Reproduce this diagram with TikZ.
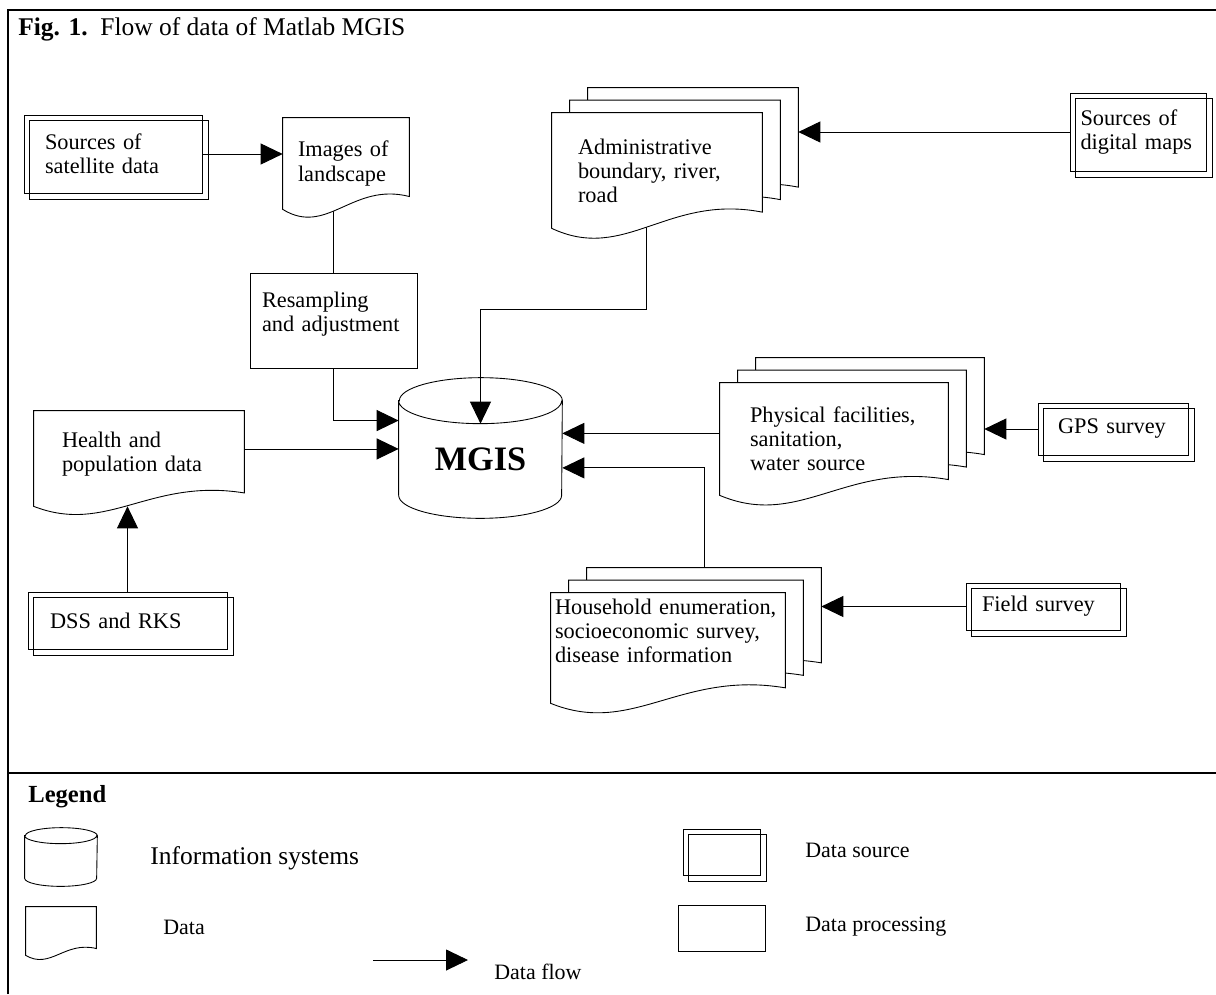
\documentclass[tikz,border=0pt]{standalone}
\usepackage{fontspec}
\setmainfont{Liberation Serif}
\usetikzlibrary{arrows.meta,calc,backgrounds}

\newcommand{\docpage}[3]{%
  \filldraw[outline]
    ($(#1.north west)+(#2,#3)$) -- ($(#1.south west)+(#2,#3)$)
    .. controls ($(#1.south west)!0.35!(#1.south east)+0.3*(#1.south west)-0.3*(#1.north west)+(#2,#3)$)
    and ($(#1.south west)!0.55!(#1.south east)-0.3*(#1.south west)+0.3*(#1.north west)+(#2,#3)$)
    .. ($(#1.south east)!0.14!(#1.north east)+(#2,#3)$) -- ($(#1.north east)+(#2,#3)$) -- cycle;}
\newcommand{\docshape}[1]{\docpage{#1}{0cm}{0cm}}
\newcommand{\docstack}[1]{\docpage{#1}{0.72cm}{0.5cm}\docpage{#1}{0.36cm}{0.25cm}\docpage{#1}{0cm}{0cm}}
\newcommand{\dbshape}[3]{%
  \filldraw[outline] (#1.north west) -- (#1.south west)
    arc[start angle=180,end angle=360,x radius=#2,y radius=#3]
    -- (#1.north east) arc[start angle=0,end angle=180,x radius=#2,y radius=#3] -- cycle
    (#1.north west) arc[start angle=180,end angle=360,x radius=#2,y radius=#3];}
\newcommand{\srccopy}[1]{\draw[link] ([shift={(0.12cm,-0.12cm)}]#1.north west) rectangle ([shift={(0.12cm,-0.12cm)}]#1.south east);}

\begin{document}
\begin{tikzpicture}[x=0.02cm,y=-0.02cm]
\tikzset{
  txt/.style={font=\fontsize{12.7}{13.7}\selectfont,align=left,inner ysep=0pt},
  srcbox/.style={txt,draw,line width=0.5pt},
  procbox/.style={txt,draw,line width=0.5pt},
  datadoc/.style={txt},
  dbase/.style={inner sep=0pt,font=\fontsize{19.5}{20}\selectfont\bfseries},
  outline/.style={draw,fill=white,line width=0.5pt},
  link/.style={line width=0.5pt},
  flow/.style={link,-{Triangle[length=4.4mm,width=4.2mm]}},
  keytxt/.style={anchor=west,inner sep=0pt,font=\fontsize{12.5}{14}\selectfont}
}
\useasboundingbox (0,0) rectangle (1216,994);
\node[anchor=base west,inner sep=0pt,font=\fontsize{14.5}{16}\selectfont] (title) at (18,35) {\textbf{Fig. 1.}\ \ Flow of data of Matlab MGIS};
\node[srcbox,minimum height=1.56cm,inner xsep=0.42cm,text width=2.72cm] (sat_src) at (113,154) {Sources of\\satellite data};
\node[datadoc,minimum height=1.82cm,inner xsep=0.3cm,text width=1.92cm] (landscape) at (346,163.5) {Images of\\landscape};
\node[procbox,minimum height=1.9cm,inner xsep=0.24cm,text width=2.86cm,text depth=0.82cm] (resample) at (333.5,320.5) {Resampling\\and adjustment};
\node[datadoc,minimum height=2.3cm,inner xsep=0.52cm,text width=3.16cm] (admin) at (657,170.5) {Administrative\\boundary, river,\\road};
\node[srcbox,minimum height=1.56cm,inner xsep=0.21cm,text width=2.3cm] (digital_src) at (1138,132) {Sources of\\digital maps};
\node[dbase,minimum width=3.26cm,minimum height=1.88cm,text height=0.89cm,text depth=0cm] (mgis) at (480.5,448) {MGIS};
\node[datadoc,minimum height=1.9cm,inner xsep=0.56cm,text width=3.08cm,text depth=0.74cm] (health) at (139,458.5) {Health and\\population data};
\node[srcbox,minimum height=1.14cm,inner xsep=0.44cm,text width=3.1cm] (dss_src) at (127.5,620.5) {DSS and RKS};
\node[datadoc,minimum height=2.24cm,inner xsep=0.6cm,text width=3.36cm] (physical) at (834,439) {Physical facilities,\\sanitation,\\water source};
\node[srcbox,minimum height=1.04cm,inner xsep=0.4cm,text width=2.2cm] (gps_src) at (1113,429) {GPS survey};
\node[datadoc,minimum height=2.2cm,inner xsep=0.08cm,text width=4.52cm,text depth=1.64cm] (household) at (668,648) {Household enumeration,\\socioeconomic survey,\\disease information};
\node[srcbox,minimum height=0.94cm,inner xsep=0.32cm,text width=2.44cm] (field_src) at (1043,606.5) {Field survey};
\node[anchor=west,inner sep=0pt,font=\fontsize{14}{16}\selectfont\bfseries] (legend) at (28,797) {Legend};
\node[inner sep=0pt,minimum width=1.44cm,minimum height=0.84cm] (key_is) at (61,857) {};
\node[keytxt,font=\fontsize{14.5}{16}\selectfont] (key_is_txt) at (150,858) {Information systems};
\node[inner sep=0pt,minimum width=1.4cm,minimum height=0.96cm] (key_data) at (61,931) {};
\node[keytxt] (key_data_txt) at (163,927) {Data};
\node[srcbox,inner sep=0pt,minimum width=1.54cm,minimum height=0.92cm] (key_src) at (721.5,852) {};
\node[keytxt] (key_src_txt) at (805,850) {Data source};
\node[procbox,inner sep=0pt,minimum width=1.74cm,minimum height=0.92cm] (key_proc) at (721.5,928) {};
\node[keytxt] (key_proc_txt) at (805,927) {Data processing};
\coordinate (flow_tail) at (373,960);
\coordinate (flow_head) at (468,960);
\node[keytxt] (key_flow_txt) at (494,972) {Data flow};
\srccopy{sat_src}
\srccopy{digital_src}
\srccopy{dss_src}
\srccopy{gps_src}
\srccopy{field_src}
\srccopy{key_src}
\begin{pgfonlayer}{background}
\draw[line width=0.8pt] (8,994) -- (8,10) -- (1216,10);
\draw[line width=0.8pt] (8,773) -- (1216,773);
\draw[flow] (sat_src.east) -- (sat_src.east -| landscape.west);
\draw[link] ($(resample.north |- landscape.south)+(0,0.3cm)$) -- (resample.north);
\draw[flow] (resample.south) |- ($(mgis.north west)!0.21!(mgis.south west)$);
\draw[flow] (digital_src.west) -- ($(digital_src.west -| admin.east)+(0.72cm,0)$);
\draw[flow] ($(health.north east)!0.4!(health.south east)$) coordinate (hp) -- (hp -| mgis.west);
\draw[flow] (dss_src.north) -- (dss_src.north |- health.south);
\draw[flow] ($(physical.north west)!0.45!(physical.south west)$) coordinate (pp) -- (pp -| mgis.east);
\draw[flow] (gps_src.west) -- ($(gps_src.west -| physical.east)+(0.72cm,0)$);
\draw[flow] ([xshift=0.72cm,yshift=0.5cm]household.north) |- ($(mgis.north east)!0.71!(mgis.south east)$);
\draw[flow] (field_src.west) -- ($(field_src.west -| household.east)+(0.72cm,0)$);
\draw[flow] (flow_tail) -- (flow_head);
\docshape{landscape}
\docshape{health}
\docstack{physical}
\docstack{household}
\dbshape{mgis}{1.63cm}{0.46cm}
\draw[flow] ($(admin.south west)!0.45!(admin.south east)+(0,0.2cm)$) |- ([yshift=1.82cm]mgis.north) -- ([yshift=-0.46cm]mgis.north);
\docstack{admin}
\docshape{key_data}
\dbshape{key_is}{0.72cm}{0.16cm}
\end{pgfonlayer}
\end{tikzpicture}
\end{document}
